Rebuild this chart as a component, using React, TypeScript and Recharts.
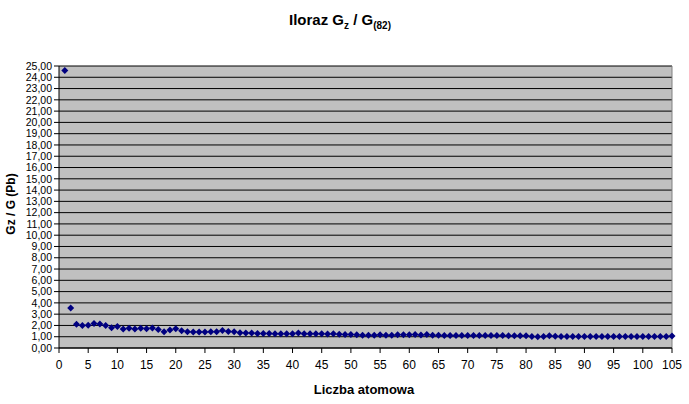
import { ScatterChart, Scatter, XAxis, YAxis, CartesianGrid, ReferenceLine } from 'recharts';

// atomic number Z and ratio Gz / G(82)
const atomicNumbers = Array.from({ length: 105 }, (_, i) => i + 1);
const ratios = [
  24.6, 3.55, 2.1, 2.0, 2.02, 2.18, 2.12, 2.0, 1.8, 1.9,
  1.68, 1.76, 1.68, 1.76, 1.7, 1.78, 1.64, 1.43, 1.6, 1.7,
  1.52, 1.43, 1.42, 1.42, 1.42, 1.43, 1.45, 1.55, 1.46, 1.43,
  1.35, 1.33, 1.32, 1.28, 1.28, 1.28, 1.27, 1.27, 1.27, 1.27,
  1.32, 1.27, 1.26, 1.26, 1.26, 1.25, 1.26, 1.22, 1.2, 1.2,
  1.18, 1.12, 1.14, 1.12, 1.17, 1.14, 1.12, 1.17, 1.18, 1.18,
  1.2, 1.16, 1.19, 1.12, 1.12, 1.1, 1.1, 1.1, 1.1, 1.1,
  1.1, 1.1, 1.1, 1.1, 1.1, 1.1, 1.09, 1.09, 1.08, 1.08,
  1.02, 1.0, 1.03, 1.08, 1.04, 1.01, 1.01, 1.01, 1.01, 1.01,
  1.01, 1.01, 1.01, 1.01, 1.01, 1.01, 1.01, 1.01, 1.01, 1.01,
  1.01, 1.01, 1.01, 1.01, 1.06,
];
const xTicks = Array.from({ length: 22 }, (_, i) => i * 5);
const yTicks = Array.from({ length: 26 }, (_, i) => i);

const data = atomicNumbers.map((z, i) => ({ z, g: ratios[i] }));

const font = '"Liberation Sans", Arial, sans-serif';

function Diamond(props: any) {
  const { cx, cy } = props;
  if (cx == null || cy == null) return null;
  const r = 3.5;
  return (
    <polygon
      points={`${cx},${cy - r} ${cx + r},${cy} ${cx},${cy + r} ${cx - r},${cy}`}
      fill="#000080"
    />
  );
}

export default function App() {
  return (
    <div style={{ position: 'absolute', left: 0, top: 0, width: 689, height: 404, background: '#fff', fontFamily: font }}>
      <ScatterChart width={689} height={404} margin={{ top: 66, right: 17, bottom: 26, left: 0 }}>
        <CartesianGrid vertical={false} stroke="#000" fill="#c0c0c0" fillOpacity={1} />
        <XAxis
          type="number"
          dataKey="z"
          domain={[0, 105]}
          ticks={xTicks}
          interval={0}
          height={30}
          stroke="#000"
          tickSize={5}
          tick={{ fontSize: 12, fill: '#000', fontFamily: font, dy: 5 }}
        />
        <YAxis
          type="number"
          dataKey="g"
          domain={[0, 25]}
          ticks={yTicks}
          interval={0}
          width={59}
          stroke="#000"
          tickSize={5}
          tickFormatter={(v: number) => v.toFixed(2).replace('.', ',')}
          tick={{ fontSize: 10.5, fill: '#000', fontFamily: font }}
        />
        <ReferenceLine x={105} stroke="#808080" />
        <Scatter data={data} isAnimationActive={false} shape={(p: any) => <Diamond {...p} />} />
      </ScatterChart>
      <div style={{ position: 'absolute', left: 0, top: 11, width: 680, textAlign: 'center', fontSize: 15, fontWeight: 'bold' }}>
        Iloraz G<sub style={{ fontSize: 10 }}>z</sub> / G<sub style={{ fontSize: 10 }}>(82)</sub>
      </div>
      <div style={{ position: 'absolute', left: 11, top: 204, transform: 'translate(-50%, -50%) rotate(-90deg)', whiteSpace: 'nowrap', fontSize: 12, fontWeight: 'bold' }}>
        Gz / G (Pb)
      </div>
      <div style={{ position: 'absolute', left: 364, top: 389, transform: 'translate(-50%, -50%)', whiteSpace: 'nowrap', fontSize: 13, fontWeight: 'bold' }}>
        Liczba atomowa
      </div>
    </div>
  );
}
